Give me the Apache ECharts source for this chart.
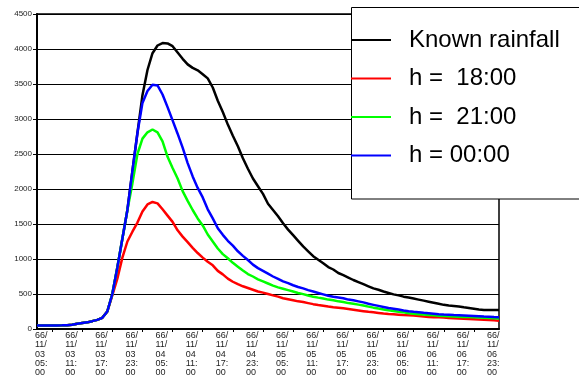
<!DOCTYPE html>
<html>
<head>
<meta charset="utf-8">
<script src="https://cdn.jsdelivr.net/npm/echarts@6/dist/echarts.min.js"></script>
<style>
html,body{margin:0;padding:0;background:#fff;}
#chart{width:579px;height:380px;}
</style>
</head>
<body>
<div id="chart"></div>
<script>
// Hourly categories starting 66/11/03 05:00 (93 hours)
var startDay = 3, startHour = 5, hours = 93;
var seriesNames = ['Known rainfall', 'h =  18:00', 'h =  21:00', 'h = 00:00'];
var seriesColors = ['#000000', '#ff0000', '#00ff00', '#0000ff'];

var known = [50,50,50,50,50,52,55,60,75,85,95,112,130,160,250,500,880,1290,1700,2260,
  2800,3340,3700,3940,4050,4085,4080,4040,3950,3860,3780,3730,3695,3640,3580,3450,3260,3100,2920,2760,
  2610,2440,2290,2150,2040,1930,1790,1700,1610,1510,1420,1340,1260,1180,1110,1040,990,940,885,850,
  800,770,735,700,670,640,610,580,560,535,515,495,480,462,450,435,420,405,390,375,
  360,345,335,330,322,310,300,290,280,273,271,270,270];

var h18 = [50,50,50,50,50,52,55,60,75,85,95,112,130,160,250,480,720,1020,1250,1390,
  1520,1680,1780,1815,1795,1710,1620,1530,1410,1320,1240,1160,1085,1020,960,910,830,780,720,675,
  640,610,585,560,535,520,500,480,462,440,425,410,395,385,370,355,343,332,320,310,
  303,295,285,275,265,255,245,238,230,222,215,210,205,200,198,192,185,178,172,168,
  167,163,158,155,150,146,143,140,136,132,128,124,119];

var h21 = [50,50,50,50,50,52,55,60,75,85,95,112,130,160,250,500,880,1290,1700,2080,
  2500,2720,2810,2850,2810,2680,2460,2300,2150,1970,1830,1700,1580,1480,1350,1250,1150,1070,1010,945,
  890,835,785,750,710,680,650,620,595,575,555,535,515,498,478,462,448,435,420,410,
  395,385,370,360,348,335,320,305,292,280,268,258,248,238,226,218,212,206,200,195,
  188,184,181,178,175,172,170,167,163,160,157,154,150];

var h00 = [50,50,50,50,50,52,55,60,75,85,95,112,130,160,250,500,880,1290,1700,2260,
  2800,3230,3400,3490,3480,3350,3170,2980,2790,2590,2370,2180,2015,1880,1710,1580,1440,1345,1260,1190,
  1110,1045,985,920,870,830,790,750,715,680,655,625,600,580,555,535,515,495,475,460,
  450,440,420,410,395,380,360,345,330,315,300,290,278,265,255,247,240,232,225,218,
  211,207,204,200,197,194,190,186,182,178,175,170,167];

var yTicks = [0,500,1000,1500,2000,2500,3000,3500,4000,4500];

function pad(n){ return (n < 10 ? '0' : '') + n; }
var categories = [];
for (var i = 0; i < hours; i++) {
  var t = startHour + i;
  var d = startDay + Math.floor(t / 24);
  var h = t % 24;
  categories.push('66/11/' + pad(d) + ' ' + pad(h) + ':00');
}

var chart = echarts.init(document.getElementById('chart'), null, {renderer: 'canvas'});
var dataSets = [known, h18, h21, h00];
var series = dataSets.map(function (arr, k) {
  return {
    name: seriesNames[k],
    type: 'line',
    data: arr,
    symbol: 'none',
    smooth: false,
    z: 2,
    lineStyle: {color: seriesColors[k], width: 2.5},
    itemStyle: {color: seriesColors[k]}
  };
});

chart.setOption({
  animation: false,
  backgroundColor: '#fff',
  textStyle: {fontFamily: 'Liberation Sans, Arial, sans-serif'},
  grid: {left: 37, right: 80, top: 14, bottom: 51, show: true, borderColor: '#000', borderWidth: 1.5, containLabel: false},
  xAxis: {
    type: 'category',
    data: categories,
    boundaryGap: false,
    axisLine: {show: true, lineStyle: {color: '#000', width: 2}},
    axisTick: {show: true, length: 3, interval: function (idx) { return idx % 6 === 3; }, lineStyle: {color: '#000'}},
    axisLabel: {
      interval: 5,
      align: 'left',
      margin: 2,
      fontSize: 9,
      lineHeight: 9.3,
      color: '#222',
      padding: [0, 0, 0, -2],
      formatter: function (v) {
        var p = v.split(' ');
        var dp = p[0].split('/');
        var tp = p[1].split(':');
        return dp[0] + '/\n' + dp[1] + '/\n' + dp[2] + '\n' + tp[0] + ':\n' + tp[1];
      }
    },
    splitLine: {show: false}
  },
  yAxis: {
    type: 'value',
    min: yTicks[0],
    max: yTicks[yTicks.length - 1],
    interval: 500,
    axisLine: {show: true, lineStyle: {color: '#000', width: 2}},
    axisTick: {show: true, length: 4, lineStyle: {color: '#000'}},
    axisLabel: {fontSize: 8, color: '#222', margin: 5, formatter: function (v) { return String(v); }},
    splitLine: {show: true, lineStyle: {color: '#000', width: 1}}
  },
  graphic: [{
    type: 'rect',
    z: 50,
    shape: {x: 351.5, y: 7.5, width: 260, height: 191.5},
    style: {fill: '#fff', stroke: '#000', lineWidth: 1}
  }],
  legend: {
    z: 60,
    zlevel: 0,
    orient: 'vertical',
    left: 351,
    top: 28,
    padding: 0,
    itemWidth: 40,
    itemHeight: 24,
    itemGap: 14.5,
    icon: 'path://M0,0 L40,0 L40,2 L0,2 Z',
    data: seriesNames.map(function (n, k) {
      return {name: n, itemStyle: {color: seriesColors[k]}};
    }),
    textStyle: {fontSize: 24, lineHeight: 24, color: '#000', padding: [0, 0, 0, 13], fontFamily: 'Liberation Sans, Arial, sans-serif'}
  },
  series: series
});
</script>
</body>
</html>
